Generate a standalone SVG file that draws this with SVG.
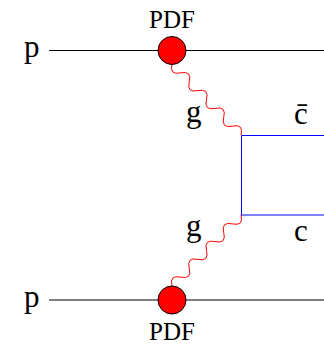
<svg xmlns="http://www.w3.org/2000/svg" width="324" height="346" viewBox="0 0 324 346">
<style>
.t{font-family:"Liberation Serif","Times New Roman",serif;fill:#000}
.big{font-size:31px}
.pdf{font-size:25px;text-anchor:middle}
.line{stroke:#000;stroke-width:1;fill:none}
.quark{stroke:#0000ff;stroke-width:1;fill:none}
.gluon{stroke:#ff0000;stroke-width:1;fill:none}
.blob{fill:#ff0000;stroke:#000;stroke-width:1}
</style>
<rect width="324" height="346" fill="#fff"/>
<g id="connectors">
<line class="line" x1="49" y1="50.5" x2="324" y2="50.5"/>
<line class="line" x1="49" y1="300" x2="324" y2="300"/>
<path class="gluon" d="M172,64 Q169.14,75.41 180.63,72.88 T189.25,81.75 T197.88,90.63 T206.5,99.5 T215.13,108.38 T223.75,117.25 T232.38,126.13 T241,135"/>
<path class="gluon" d="M172,286 Q169.14,274.59 180.63,277.12 T189.25,268.25 T197.88,259.37 T206.5,250.5 T215.13,241.62 T223.75,232.75 T232.38,223.87 T241,215"/>
<path class="quark" d="M324,135.5 H241.5 V215"/>
<line class="quark" x1="241" y1="215" x2="324" y2="215"/>
</g>
<g id="pdf-top">
<circle class="blob" cx="172" cy="50.5" r="14"/>
<text class="t pdf" x="172" y="28">PDF</text>
</g>
<g id="pdf-bottom">
<circle class="blob" cx="172" cy="300" r="14"/>
<text class="t pdf" x="172" y="340">PDF</text>
</g>
<g id="labels">
<text class="t big" x="24" y="57">p</text>
<text class="t big" x="24" y="307">p</text>
<text class="t big" x="186" y="122">g</text>
<text class="t big" x="186" y="236">g</text>
<text class="t big" x="294" y="124">c̄</text>
<text class="t big" x="294" y="241">c</text>
</g>
</svg>
